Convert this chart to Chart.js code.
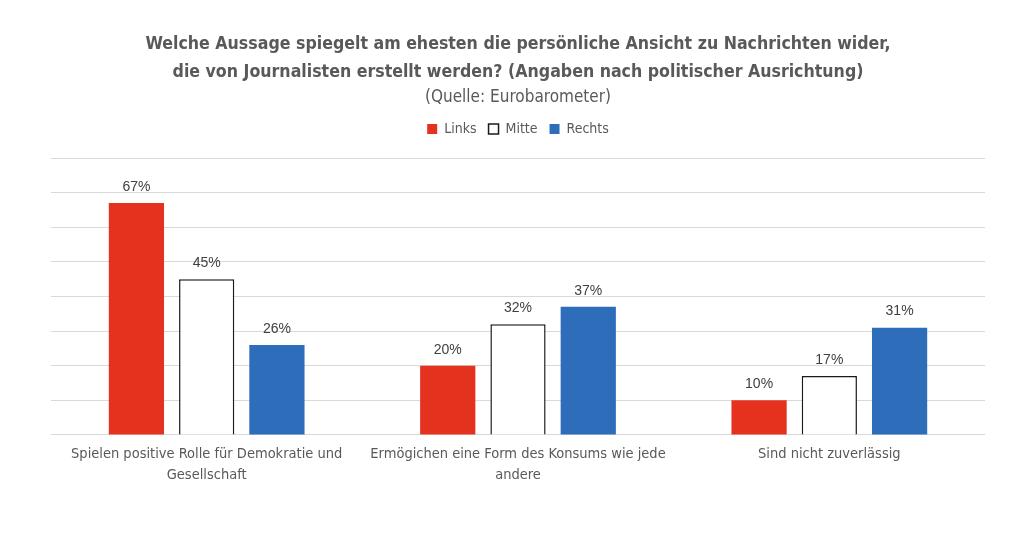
<!DOCTYPE html>
<html>
<head>
<meta charset="utf-8">
<script src="https://cdn.jsdelivr.net/npm/chart.js@4.4.1/dist/chart.umd.min.js"></script>
<style>
  html, body { margin: 0; padding: 0; background: #fff; }
  #wrap { width: 1024px; height: 547px; }
</style>
</head>
<body>
<div id="wrap"><canvas id="grafico"></canvas></div>
<script>
// categorie (asse x, su due righe)
const categorie = [
  ["Spielen positive Rolle für Demokratie und", "Gesellschaft"],
  ["Ermögichen eine Form des Konsums wie jede", "andere"],
  ["Sind nicht zuverlässig"]
];
// valori in %
const links = [67, 20, 10];
const mitte = [45, 32, 17];
const rechts = [26, 37, 31];

const narrow = "'Liberation Sans Narrow', 'DejaVu Sans Condensed', sans-serif";

// etichette sopra le barre
const etichette = {
  id: 'etichette',
  afterDatasetsDraw(chart) {
    const ctx = chart.ctx;
    ctx.save();
    ctx.font = "14px 'Liberation Sans', Arial, sans-serif";
    ctx.fillStyle = "#404040";
    ctx.textAlign = "center";
    ctx.textBaseline = "bottom";
    chart.data.datasets.forEach((ds, i) => {
      chart.getDatasetMeta(i).data.forEach((bar, j) => {
        ctx.fillText(ds.data[j] + "%", bar.x, bar.y - 9);
      });
    });
    ctx.restore();
  }
};

// spazio extra sotto la legenda
const spazioLegenda = {
  id: 'spazioLegenda',
  beforeInit(chart) {
    const fit = chart.legend.fit;
    chart.legend.fit = function () {
      fit.bind(chart.legend)();
      this.height += 12;
    };
  }
};

new Chart(document.getElementById("grafico"), {
  type: 'bar',
  data: {
    labels: categorie,
    datasets: [{
      label: "Links",
      data: links,
      backgroundColor: "#E5321F",
      borderWidth: 0
    }, {
      label: "Mitte",
      data: mitte,
      backgroundColor: "#ffffff",
      borderColor: "#1a1a1a",
      borderWidth: 1.5
    }, {
      label: "Rechts",
      data: rechts,
      backgroundColor: "#2E6DB9",
      borderWidth: 0
    }]
  },
  options: {
    responsive: true,
    maintainAspectRatio: false,
    animation: false,
    categoryPercentage: 0.677,
    barPercentage: 0.786,
    layout: { padding: { left: 51, right: 39, top: 30, bottom: 60 } },
    plugins: {
      title: {
        display: true,
        text: ["Welche Aussage spiegelt am ehesten die persönliche Ansicht zu Nachrichten wider,",
               "die von Journalisten erstellt werden? (Angaben nach politischer Ausrichtung)"],
        color: "#595959",
        font: { family: narrow, size: 17.6, weight: 'bold', lineHeight: 1.6 },
        padding: { top: 0, bottom: 2 }
      },
      subtitle: {
        display: true,
        text: "(Quelle: Eurobarometer)",
        color: "#595959",
        font: { family: narrow, size: 17, lineHeight: 1.1 },
        padding: { top: 0, bottom: 3 }
      },
      legend: {
        display: true,
        position: 'top',
        labels: {
          boxWidth: 10,
          boxHeight: 10,
          color: "#595959",
          font: { family: narrow, size: 14 },
          padding: 12
        }
      },
      tooltip: { enabled: false }
    },
    scales: {
      x: {
        grid: { display: false },
        border: { display: false },
        ticks: {
          color: "#595959",
          font: { family: narrow, size: 14.5, lineHeight: 1.45 },
          padding: 1,
          maxRotation: 0
        }
      },
      y: {
        min: 0,
        max: 80,
        ticks: { display: false, stepSize: 10 },
        border: { display: false },
        grid: { color: "#d9d9d9", lineWidth: 1, drawTicks: false, tickLength: 0 }
      }
    }
  },
  plugins: [etichette, spazioLegenda]
});
</script>
</body>
</html>
